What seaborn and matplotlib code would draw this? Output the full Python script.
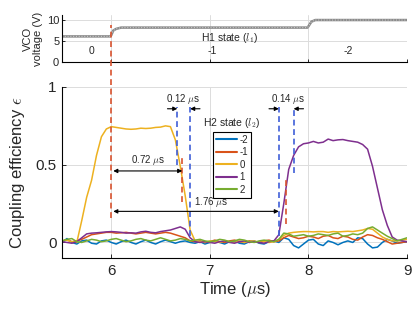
"""
VCO voltage steps (H1 state) and coupling efficiency of H2 states vs time.
"""

import numpy as np
import pandas as pd
import matplotlib
matplotlib.use("Agg")
import matplotlib.pyplot as plt
import seaborn as sns

# ---- data ----
time_us = np.round(np.arange(5.5, 9.0001, 0.05), 2)

eff_m2 = [0.0, 0.025, 0.0, -0.01, 0.01, 0.015, -0.005, -0.01, 0.01, 0.015,
          0.0, -0.01, 0.005, 0.015, 0.0, -0.01, 0.005, 0.015, 0.0, -0.01,
          0.005, 0.015, 0.005, -0.005, 0.005, 0.01, 0.0, -0.005, 0.005, -0.01,
          0.0, 0.01, 0.0, -0.01, 0.005, 0.01, -0.005, -0.01, 0.005, 0.01,
          -0.005, -0.01, 0.005, 0.01, 0.0, 0.03, 0.02, -0.02, -0.035, -0.01,
          0.015, 0.02, -0.01, -0.02, 0.01, 0.0, -0.015, 0.0, 0.01, 0.0,
          0.03, 0.025, -0.01, -0.035, -0.03, 0.0, 0.02, 0.01, -0.005, 0.0,
          0.005]
eff_m1 = [0.01, 0.015, 0.005, 0.01, 0.02, 0.035, 0.05, 0.055, 0.06, 0.065,
          0.065, 0.06, 0.062, 0.065, 0.06, 0.055, 0.06, 0.065, 0.06, 0.055,
          0.06, 0.065, 0.06, 0.05, 0.04, 0.03, 0.01, 0.005, 0.01, 0.0,
          0.005, 0.015, 0.005, 0.0, 0.01, 0.015, 0.005, 0.0, 0.01, 0.005,
          0.0, 0.01, 0.015, 0.005, 0.01, 0.03, 0.045, 0.035, 0.025, 0.03,
          0.04, 0.035, 0.025, 0.04, 0.045, 0.03, 0.025, 0.04, 0.035, 0.02,
          0.015, 0.035, 0.05, 0.045, 0.03, 0.02, 0.005, -0.01, -0.005, 0.0,
          0.005]
eff_0 = [0.01, 0.015, 0.005, 0.0, 0.14, 0.29, 0.40, 0.56, 0.68, 0.73,
         0.745, 0.74, 0.735, 0.73, 0.728, 0.73, 0.735, 0.733, 0.735, 0.74,
         0.742, 0.75, 0.745, 0.66, 0.49, 0.30, 0.08, 0.01, 0.005, 0.0,
         0.01, 0.005, 0.0, 0.01, 0.005, 0.0, 0.01, 0.0, 0.005, 0.01,
         0.0, 0.005, 0.0, 0.005, 0.02, 0.045, 0.06, 0.065, 0.068, 0.07,
         0.07, 0.068, 0.07, 0.07, 0.065, 0.07, 0.068, 0.07, 0.072, 0.07,
         0.075, 0.08, 0.09, 0.085, 0.06, 0.035, 0.02, 0.01, 0.01, 0.015,
         0.02]
eff_p1 = [0.005, 0.0, -0.005, 0.005, 0.03, 0.055, 0.06, 0.062, 0.065, 0.068,
          0.07, 0.068, 0.065, 0.06, 0.062, 0.06, 0.068, 0.072, 0.065, 0.062,
          0.07, 0.075, 0.08, 0.09, 0.10, 0.085, 0.03, 0.005, 0.0, 0.005,
          0.0, -0.005, 0.005, 0.01, 0.0, -0.005, 0.005, 0.01, 0.0, 0.005,
          0.0, -0.005, 0.005, 0.01, 0.05, 0.25, 0.47, 0.56, 0.615, 0.635,
          0.64, 0.65, 0.64, 0.645, 0.665, 0.655, 0.66, 0.662, 0.655, 0.65,
          0.645, 0.63, 0.60, 0.49, 0.35, 0.21, 0.11, 0.035, 0.015, 0.01,
          0.005]
eff_p2 = [0.01, 0.02, 0.025, 0.005, 0.0, 0.01, 0.02, 0.015, 0.005, 0.01,
          0.02, 0.025, 0.015, 0.005, 0.01, 0.02, 0.025, 0.015, 0.01, 0.02,
          0.03, 0.02, 0.01, 0.015, 0.025, 0.02, 0.01, 0.015, 0.02, 0.01,
          0.005, 0.01, 0.02, 0.015, 0.005, 0.01, 0.02, 0.015, 0.005, 0.0,
          0.01, 0.015, 0.01, 0.005, 0.02, 0.06, 0.055, 0.04, 0.045, 0.05,
          0.04, 0.045, 0.055, 0.05, 0.045, 0.055, 0.06, 0.04, 0.045, 0.055,
          0.05, 0.06, 0.09, 0.10, 0.08, 0.06, 0.04, 0.025, 0.01, 0.02,
          0.03]

states = ["-2", "-1", "0", "1", "2"]
state_colors = ["#0072BD", "#D95319", "#EDB120", "#7E2F8E", "#77AC30"]

vco_time = [5.5, 5.99, 6.0, 6.02, 6.05, 6.1, 7.99, 8.0, 8.03, 8.07, 9.0]
vco_volt = [6.1, 6.1, 6.4, 7.5, 7.9, 8.2, 8.2, 8.5, 9.6, 10.0, 10.0]

h1_states = ["0", "-1", "-2"]
h1_state_pos = [5.8, 7.02, 8.4]

df = pd.DataFrame({
    "t": np.tile(time_us, len(states)),
    "eff": np.concatenate([eff_m2, eff_m1, eff_0, eff_p1, eff_p2]),
    "state": np.repeat(states, len(time_us)),
})

sns.set_theme(style="white")
plt.rcParams["font.family"] = ["Liberation Sans", "DejaVu Sans"]
plt.rcParams["mathtext.fontset"] = "cm"
plt.rcParams["xtick.direction"] = "in"
plt.rcParams["ytick.direction"] = "in"

fig = plt.figure(figsize=(4.15, 3.12), dpi=100)
ax_top = fig.add_axes([62 / 415, 1 - 62 / 312, 345 / 415, 47 / 312])
ax = fig.add_axes([62 / 415, 1 - 258 / 312, 345 / 415, 171 / 312])

grid_kw = dict(color="#dcdcdc", lw=0.7)
red = "#D9532F"
blue = "#3F5FD8"

# ---- top panel: VCO voltage ----
ax_top.plot(vco_time, vco_volt, color="#8a8a8a", lw=1.8)
ax_top.plot(vco_time, vco_volt, color="#c8c8c8", lw=0.8, ls=(0, (1, 1.5)))
ax_top.set_xlim(5.5, 9)
ax_top.set_ylim(0, 11.2)
ax_top.set_xticks([6, 7, 8, 9])
ax_top.set_xticklabels([])
ax_top.set_yticks([0, 5, 10])
ax_top.tick_params(axis="both", labelsize=8, length=2.5, width=0.7,
                   left=True, bottom=True, pad=2)
ax_top.set_ylabel("VCO\nvoltage (V)", fontsize=8, labelpad=3, linespacing=1.0)
ax_top.grid(True, **grid_kw)
for s in ["top", "right"]:
    ax_top.spines[s].set_visible(False)
for s in ["left", "bottom"]:
    ax_top.spines[s].set_color("black")
    ax_top.spines[s].set_linewidth(0.8)
for lab, pos in zip(h1_states, h1_state_pos):
    ax_top.text(pos, 2.6, lab, fontsize=7.5, ha="center", va="center")
ax_top.text(7.2, 5.8, r"H1 state ($l_1$)", fontsize=7.5, ha="center", va="center")

# ---- bottom panel: coupling efficiency ----
sns.lineplot(data=df, x="t", y="eff", hue="state", hue_order=states,
             palette=state_colors, lw=1.1, ax=ax, legend=False)
ax.set_xlim(5.5, 9)
ax.set_ylim(-0.1, 1.0)
ax.set_xticks([6, 7, 8, 9])
ax.set_yticks([0, 0.5, 1])
ax.set_yticklabels(["0", "0.5", "1"])
ax.tick_params(axis="both", labelsize=11, length=3, width=0.7,
               left=True, bottom=True, pad=4)
ax.set_xlabel(r"Time ($\mu$s)", fontsize=12, labelpad=2)
ax.set_ylabel(r"Coupling efficiency $\epsilon$", fontsize=12, labelpad=6)
ax.grid(True, **grid_kw)
for s in ["top", "right"]:
    ax.spines[s].set_visible(False)
for s in ["left", "bottom"]:
    ax.spines[s].set_color("black")
    ax.spines[s].set_linewidth(0.8)

dash = (0, (3.5, 2.2))
# red markers (long one crosses into top panel)
ax.plot([6.0, 6.0], [0.16, 1.40], color=red, lw=1.2, ls=dash, clip_on=False)
ax.plot([6.72, 6.72], [0.26, 0.56], color=red, lw=1.2, ls=dash)
ax.plot([7.77, 7.77], [0.12, 0.42], color=red, lw=1.2, ls=dash)

# blue markers
for x0, y0 in [(6.67, 0.50), (6.80, 0.04), (7.70, 0.04), (7.85, 0.45)]:
    ax.plot([x0, x0], [y0, 0.87], color=blue, lw=1.2, ls=dash)

arrow_kw = dict(arrowstyle="<|-|>", color="black", lw=0.8,
                mutation_scale=6, shrinkA=0, shrinkB=0)
one_kw = dict(arrowstyle="-|>", color="black", lw=0.8,
              mutation_scale=6, shrinkA=0, shrinkB=0)

ax.annotate("", xy=(6.72, 0.46), xytext=(6.02, 0.46), arrowprops=arrow_kw)
ax.text(6.37, 0.485, r"0.72 $\mu$s", fontsize=7, ha="center", va="bottom")

ax.annotate("", xy=(7.70, 0.20), xytext=(6.02, 0.20), arrowprops=arrow_kw)
ax.text(6.84, 0.215, r"1.76 $\mu$s", fontsize=7, ha="left", va="bottom")

for x_l, x_r in [(6.67, 6.80), (7.70, 7.85)]:
    ax.annotate("", xy=(x_l, 0.86), xytext=(x_l - 0.10, 0.86), arrowprops=one_kw)
    ax.annotate("", xy=(x_r, 0.86), xytext=(x_r + 0.10, 0.86), arrowprops=one_kw)
ax.text(6.73, 0.875, r"0.12 $\mu$s", fontsize=7, ha="center", va="bottom")
ax.text(7.79, 0.875, r"0.14 $\mu$s", fontsize=7, ha="center", va="bottom")

# legend
leg = ax.legend(ax.lines[:5], states, loc="upper left",
                bbox_to_anchor=(0.438, 0.737), fontsize=7, frameon=True,
                fancybox=False, edgecolor="black", framealpha=1,
                borderpad=0.3, labelspacing=0.25, handlelength=2.2,
                handletextpad=0.2, borderaxespad=0)
leg.get_frame().set_linewidth(0.8)
for h in leg.get_lines():
    h.set_linewidth(1.5)
ax.text(7.22, 0.77, r"H2 state ($l_2$)", fontsize=7.5, ha="center", va="center")

fig.savefig("out.png", dpi=100)
plt.close(fig)
